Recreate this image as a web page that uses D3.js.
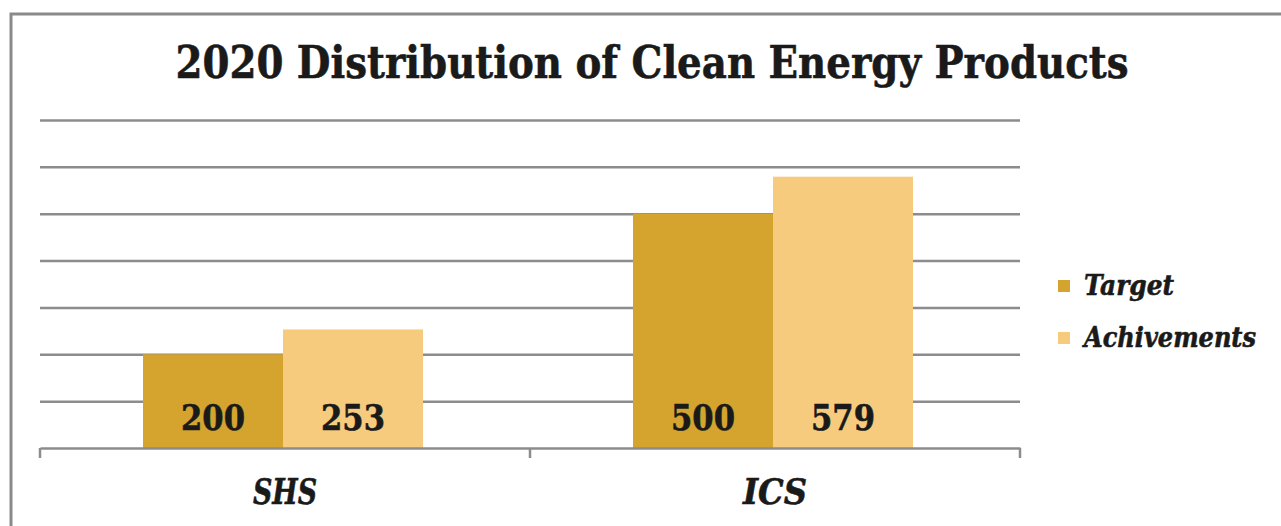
<!DOCTYPE html>
<html>
<head>
<meta charset="utf-8">
<script src="https://cdn.jsdelivr.net/npm/d3@7"></script>
<style>
  html, body { margin: 0; padding: 0; background: #fff; }
  svg { display: block; }
  .serif { font-family: "DejaVu Serif", "Liberation Serif", serif; font-weight: bold; fill: #1a1a1a; stroke: #1a1a1a; stroke-width: 0.6; }
</style>
</head>
<body>
<div id="chart"></div>
<script>
'use strict';

var categories = ['SHS', 'ICS'];
var seriesNames = ['Target', 'Achivements'];
var targetValues = [200, 500];
var achievementValues = [253, 579];
var yTicks = [0, 100, 200, 300, 400, 500, 600, 700];

var colors = ['#D5A42F', '#F7CB7E'];
var W = 1281, H = 526;
var margin = { left: 40, right: 261, top: 120, bottom: 78 };

var svg = d3.select('#chart').append('svg')
  .attr('width', W)
  .attr('height', H);

// outer frame (only top and left edges visible)
svg.append('path')
  .attr('d', 'M11,' + H + 'V14H' + W)
  .attr('fill', 'none')
  .attr('stroke', '#8a8a8a')
  .attr('stroke-width', 3);

var x0 = d3.scaleBand()
  .domain(categories)
  .range([margin.left, W - margin.right]);

var x1 = d3.scaleBand()
  .domain(seriesNames)
  .range([0, 280]);

var y = d3.scaleLinear()
  .domain([0, 700])
  .range([H - margin.bottom, margin.top]);

// gridlines
var grid = svg.append('g')
  .attr('transform', 'translate(' + margin.left + ',0)')
  .call(d3.axisLeft(y).tickValues(yTicks.slice(1))
    .tickSize(-(W - margin.right - margin.left)).tickFormat(''));
grid.select('.domain').remove();
grid.selectAll('line').attr('stroke', '#8c8c8c').attr('stroke-width', 2.5);

// bars
var rows = categories.map(function (c, i) {
  return { cat: c, vals: [targetValues[i], achievementValues[i]] };
});

var groups = svg.append('g').selectAll('g')
  .data(rows)
  .join('g')
  .attr('transform', function (d) {
    return 'translate(' + (x0(d.cat) + (x0.bandwidth() - 280) / 2 - 2) + ',0)';
  });

var bars = groups.selectAll('g')
  .data(function (d) {
    return d.vals.map(function (v, i) { return { name: seriesNames[i], value: v, i: i }; });
  })
  .join('g');

bars.append('rect')
  .attr('x', function (d) { return x1(d.name); })
  .attr('width', x1.bandwidth())
  .attr('y', function (d) { return y(d.value); })
  .attr('height', function (d) { return y(0) - y(d.value); })
  .attr('fill', function (d) { return colors[d.i]; });

bars.append('text')
  .attr('class', 'serif')
  .attr('x', function (d) { return x1(d.name) + x1.bandwidth() / 2; })
  .attr('y', y(0) - 18)
  .attr('text-anchor', 'middle')
  .attr('font-size', 36)
  .attr('textLength', 64)
  .attr('lengthAdjust', 'spacingAndGlyphs')
  .text(function (d) { return d.value; });

// category axis
var xAxis = svg.append('g')
  .attr('transform', 'translate(0,' + y(0) + ')')
  .call(d3.axisBottom(x0).tickSize(0).tickPadding(45));
xAxis.select('.domain').attr('stroke', '#8c8c8c').attr('stroke-width', 2.5);
xAxis.selectAll('text')
  .attr('class', 'serif')
  .attr('font-style', 'italic')
  .attr('font-size', 35)
  .attr('fill', '#1a1a1a')
  .attr('dy', '0.32em')
  .attr('textLength', 64)
  .attr('lengthAdjust', 'spacingAndGlyphs');

// tick marks at band edges
var edges = categories.map(function (c) { return x0(c); }).concat([W - margin.right]);
xAxis.selectAll('line.edge')
  .data(edges)
  .join('line')
  .attr('class', 'edge')
  .attr('x1', function (d) { return d; })
  .attr('x2', function (d) { return d; })
  .attr('y1', 0)
  .attr('y2', 10)
  .attr('stroke', '#8c8c8c')
  .attr('stroke-width', 2.5);

// title
svg.append('text')
  .attr('class', 'serif')
  .attr('x', 652)
  .attr('y', 78)
  .attr('text-anchor', 'middle')
  .attr('font-size', 45)
  .attr('textLength', 953)
  .attr('lengthAdjust', 'spacingAndGlyphs')
  .text('2020 Distribution of Clean Energy Products');

// legend
var legendY = d3.scalePoint().domain(seriesNames).range([286, 338]);
var legend = svg.append('g').selectAll('g')
  .data(seriesNames)
  .join('g')
  .attr('transform', function (d) { return 'translate(1058,' + legendY(d) + ')'; });

legend.append('rect')
  .attr('x', 0)
  .attr('y', -6)
  .attr('width', 12)
  .attr('height', 12)
  .attr('fill', function (d, i) { return colors[i]; });

legend.append('text')
  .attr('class', 'serif')
  .attr('x', 26)
  .attr('dy', '0.35em')
  .attr('font-size', 27)
  .attr('font-style', 'italic')
  .attr('textLength', function (d, i) { return i === 0 ? 90 : 172; })
  .attr('lengthAdjust', 'spacingAndGlyphs')
  .text(function (d) { return d; });
</script>
</body>
</html>
